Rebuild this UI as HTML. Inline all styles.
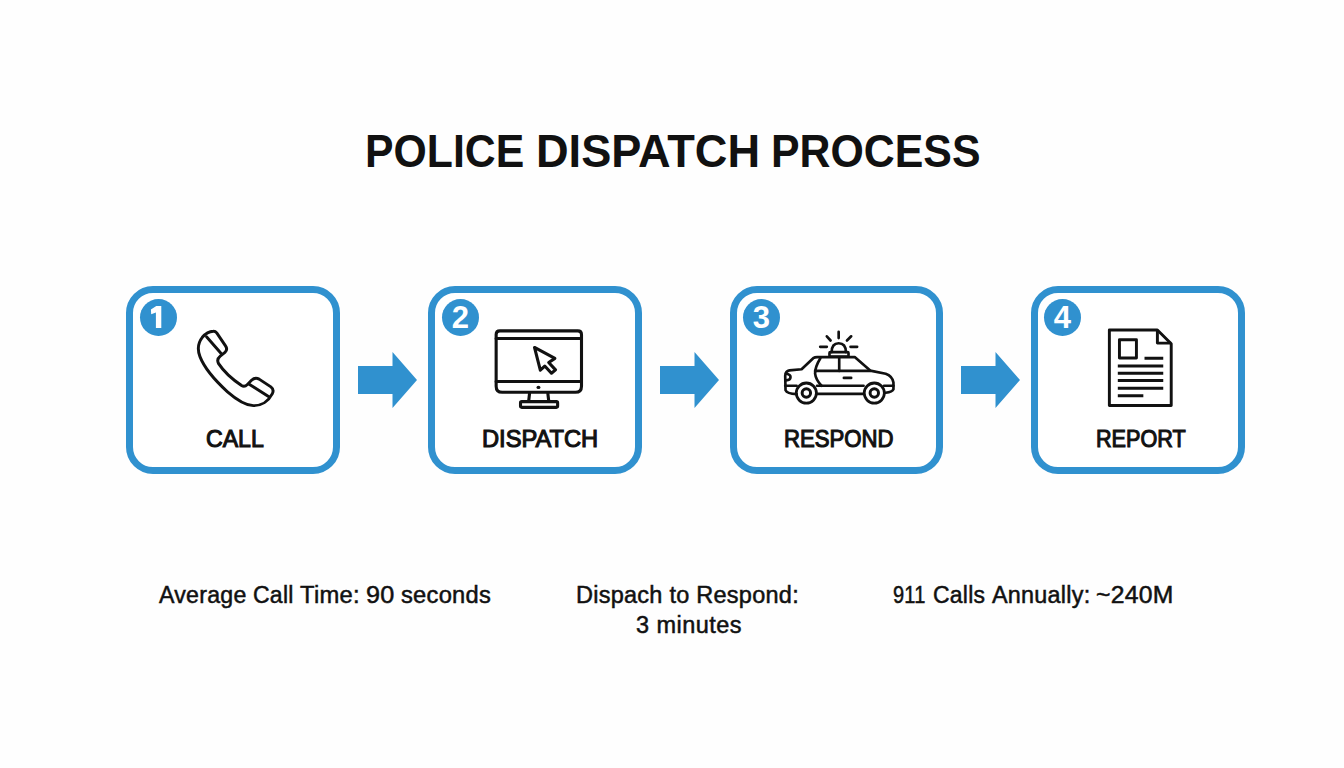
<!DOCTYPE html>
<html>
<head>
<meta charset="utf-8">
<style>
html,body{margin:0;padding:0;}
body{width:1344px;height:768px;position:relative;overflow:hidden;background:#fefefe;font-family:"Liberation Sans",sans-serif;color:#111;}
.t{position:absolute;white-space:nowrap;line-height:1;}
.title{font-weight:bold;font-size:45.7px;transform-origin:0 0;}
.box{position:absolute;top:286px;width:214px;height:188px;box-sizing:border-box;border:7px solid #3091cf;border-radius:27px;background:#fff;}
.num{position:absolute;width:36.8px;height:36.8px;border-radius:50%;background:#3091cf;color:#fff;font-weight:bold;font-size:31px;line-height:38.6px;text-align:center;}
.lab{font-weight:normal;font-size:24px;-webkit-text-stroke:1.1px #111;transform-origin:0 0;}
.stat{font-size:23.5px;letter-spacing:0.25px;-webkit-text-stroke:0.5px #111;}
.sw{transform-origin:0 0;}
svg{position:absolute;overflow:visible;}
.ic{fill:none;stroke:#111;stroke-linecap:round;stroke-linejoin:round;}
</style>
</head>
<body>
<div class="t title" id="w1" style="left:364.5px;top:129px;transform:scaleX(0.936);">POLICE</div>
<div class="t title" id="w2" style="left:536.2px;top:129px;transform:scaleX(0.988);">DISPATCH</div>
<div class="t title" id="w3" style="left:771.2px;top:129px;transform:scaleX(0.9375);">PROCESS</div>

<div class="box" style="left:126px;"></div>
<div class="box" style="left:428px;"></div>
<div class="box" style="left:730px;width:213px;"></div>
<div class="box" style="left:1031px;"></div>

<div class="num" id="n1" style="left:140px;top:299px;"><svg style="left:0;top:0" width="36.8" height="36.8" viewBox="140 299 36.8 36.8"><polygon points="156.3,305.9 161.3,305.9 161.3,328 155.9,328 155.9,312.6 151.2,314.2 150.9,309.4" fill="#fff"/></svg></div>
<div class="num" id="n2" style="left:442px;top:299px;">2</div>
<div class="num" id="n3" style="left:743px;top:299px;">3</div>
<div class="num" id="n4" style="left:1044px;top:299px;">4</div>

<svg style="left:358px;top:352px;" width="59" height="56" viewBox="0 0 59 56"><polygon points="0,14 34.5,14 34.5,0 59,28 34.5,56 34.5,42 0,42" fill="#3091cf"/></svg>
<svg style="left:660px;top:352px;" width="59" height="56" viewBox="0 0 59 56"><polygon points="0,14 34.5,14 34.5,0 59,28 34.5,56 34.5,42 0,42" fill="#3091cf"/></svg>
<svg style="left:960.5px;top:352px;" width="59" height="56" viewBox="0 0 59 56"><polygon points="0,14 34.5,14 34.5,0 59,28 34.5,56 34.5,42 0,42" fill="#3091cf"/></svg>

<!-- phone: region 190,325 90x90 -->
<svg style="left:190px;top:325px;" width="90" height="90" viewBox="0 0 768 768">
<g class="ic" stroke-width="25">
<path d="M199,53 C212,52 220,57 228,67 L303,178 C317,198 315,218 298,234 L258,266 C236,284 230,305 244,330 C290,400 370,470 440,517 C458,528 478,520 490,508 L525,472 C548,450 568,450 590,462 L690,528 C712,545 712,570 700,590 C670,650 610,690 540,688 C470,685 400,640 320,570 C210,470 120,360 85,270 C62,210 70,150 105,105 C130,75 165,54 199,53 Z"/>
<path d="M141,101 L264,241"/>
<path d="M505,505 L670,610"/>
</g></svg>

<!-- monitor: region 485,320 110x95 -->
<svg style="left:485px;top:320px;" width="110" height="95" viewBox="0 0 889 768">
<g class="ic" stroke-width="25">
<path d="M120,88 H750 Q780,88 780,118 V535 Q780,584 731,584 H139 Q90,584 90,535 V118 Q90,88 120,88 Z"/>
<path d="M90,150 H780 M90,497 H780"/>
<path d="M360,594 L353,655 M508,594 L515,655"/>
<rect x="287" y="660" width="300" height="46" rx="10"/>
<path d="M400,222 L565,310 L515,343 L570,403 L537,430 L483,372 L447,405 Z"/>
</g>
<ellipse cx="432" cy="545" rx="16" ry="13" fill="#111"/>
</svg>

<!-- car: region 775,325 125x85 -->
<svg style="left:775px;top:325px;" width="125" height="85" viewBox="0 0 1129 768">
<g class="ic" stroke-width="24">
<path d="M195,625 Q110,622 95,590 L92,460 Q95,415 130,410 L240,400 L345,300 Q360,290 380,290 L720,290 L860,412 L1000,440 Q1060,460 1070,520 L1070,580 Q1060,605 1000,612"/>
<path d="M380,623 H800"/>
<path d="M92,549 H195 M380,549 H800 M985,549 H1070"/>
<path d="M410,300 Q360,380 362,440 Q368,495 420,549"/>
<path d="M362,415 H860"/>
<path d="M580,292 V415"/>
<path d="M622,478 H688"/>
<path d="M98,440 Q140,445 140,470 Q140,500 98,500"/>
<circle cx="283" cy="615" r="91" stroke-width="25"/>
<circle cx="283" cy="615" r="38" stroke-width="27"/>
<circle cx="897" cy="615" r="91" stroke-width="25"/>
<circle cx="897" cy="615" r="38" stroke-width="27"/>
<path d="M512,245 Q512,165 575,165 Q640,165 640,245"/>
<rect x="492" y="245" width="172" height="40" rx="8"/>
<path d="M575,62 V118 M468,102 L502,140 M688,102 L650,140 M408,197 H468 M682,197 H742"/>
</g></svg>

<!-- document: region 1100,322 80x90 -->
<svg style="left:1100px;top:322px;" width="80" height="90" viewBox="0 0 683 768">
<g class="ic" stroke-width="25" style="stroke-linecap:butt;stroke-linejoin:round">
<path d="M80,68 H490 L608,185 V712 H80 Z"/>
<path d="M490,68 V180 H608"/>
<rect x="166" y="151" width="145" height="156"/>
<path d="M380,310 H540 M152,375 H540 M152,437 H540 M152,500 H540 M152,565 H540 M152,630 H370"/>
</g></svg>

<div class="t lab" id="l1" style="left:206.2px;top:427px;transform:scaleX(0.963);">CALL</div>
<div class="t lab" id="l2" style="left:482px;top:427px;transform:scaleX(0.986);">DISPATCH</div>
<div class="t lab" id="l3" style="left:784.25px;top:427px;transform:scaleX(0.923);">RESPOND</div>
<div class="t lab" id="l4" style="left:1095.9px;top:427px;transform:scaleX(0.9);">REPORT</div>

<div class="t stat" id="s2" style="left:576px;top:584px;">Dispach to Respond:</div>
<div class="t stat" id="s3" style="left:636px;top:614px;letter-spacing:0.45px;">3 minutes</div>
<div class="t stat sw" style="left:159.10px;top:584px;transform:scaleX(0.985);">Average</div>
<div class="t stat sw" style="left:252.82px;top:584px;transform:scaleX(0.979);">Call</div>
<div class="t stat sw" style="left:300.30px;top:584px;transform:scaleX(1.011);">Time:</div>
<div class="t stat sw" style="left:365.73px;top:584px;transform:scaleX(1.072);">90</div>
<div class="t stat sw" style="left:400.99px;top:584px;transform:scaleX(1.009);">seconds</div>
<div class="t stat sw" style="left:893.05px;top:584px;transform:scaleX(0.853);">911</div>
<div class="t stat sw" style="left:932.52px;top:584px;transform:scaleX(0.977);">Calls</div>
<div class="t stat sw" style="left:992.10px;top:584px;transform:scaleX(0.995);">Annually:</div>
<div class="t stat sw" style="left:1095.95px;top:584px;transform:scaleX(1.052);">~240M</div>

</body>
</html>
